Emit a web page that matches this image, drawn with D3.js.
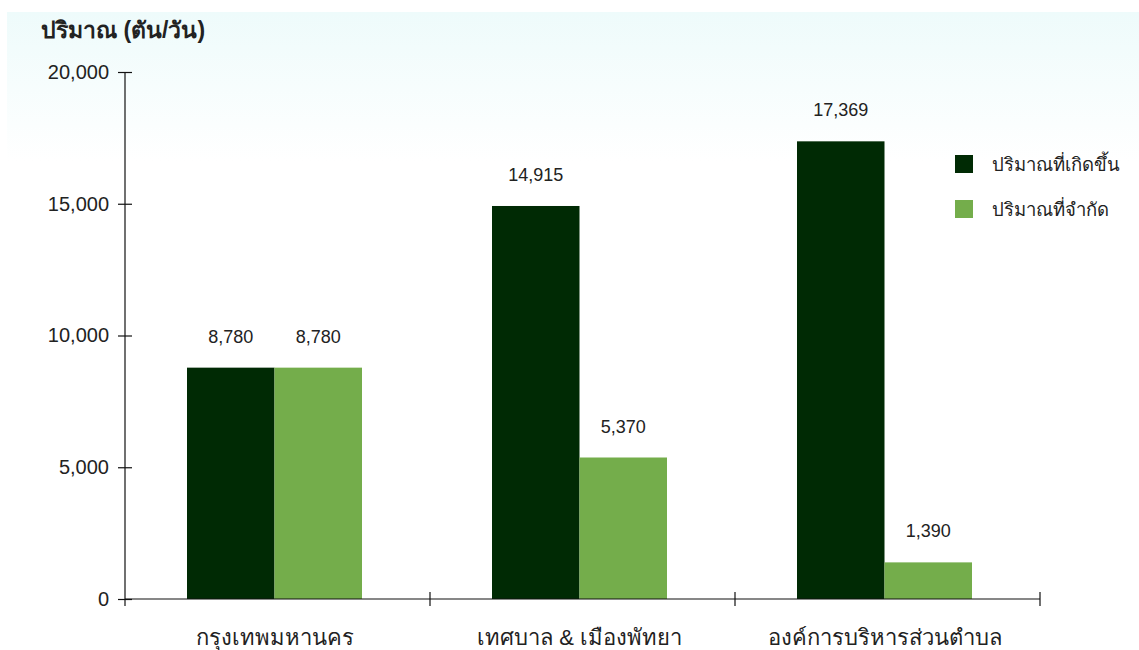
<!DOCTYPE html>
<html><head><meta charset="utf-8">
<script src="https://cdn.jsdelivr.net/npm/d3@7"></script>
<style>
body{margin:0;background:#fff;}
svg{display:block;font-family:"Liberation Sans",Arial,sans-serif;}
</style></head>
<body><svg id="chart" width="1139" height="650"></svg>
<script>
const categories = ["กรุงเทพมหานคร", "เทศบาล & เมืองพัทยา", "องค์การบริหารส่วนตำบล"];
const seriesNames = ["ปริมาณที่เกิดขึ้น", "ปริมาณที่จำกัด"];
const generated = [8780, 14915, 17369];
const disposed = [8780, 5370, 1390];
const yTicks = [0, 5000, 10000, 15000, 20000];
const colors = ["#002a04", "#74ad4b"];

const svg = d3.select("#chart");
const defs = svg.append("defs");
const grad = defs.append("linearGradient").attr("id","bg").attr("x1",0).attr("y1",0).attr("x2",0).attr("y2",1);
grad.append("stop").attr("offset","0%").attr("stop-color","#eefbfb");
grad.append("stop").attr("offset","100%").attr("stop-color","#ffffff");
svg.append("rect").attr("x",7).attr("y",12).attr("width",1132).attr("height",150).attr("fill","url(#bg)");

const mLeft = 125, mRight = 1040, mTop = 72, mBottom = 599;
const y = d3.scaleLinear().domain([0, 20000]).range([mBottom, mTop]);
const x0 = d3.scaleBand().domain(categories).range([mLeft, mRight]).padding(0);
const pairW = 175;
const x1 = d3.scaleBand().domain(seriesNames).range([0, pairW]).padding(0);

const data = categories.map((c, i) => ({cat: c, vals: [generated[i], disposed[i]]}));

const groups = svg.append("g").selectAll("g").data(data).join("g")
  .attr("transform", d => `translate(${x0(d.cat) + (x0.bandwidth() - pairW) / 2 - 3},0)`);

groups.selectAll("rect").data(d => d.vals.map((v, j) => ({v, s: seriesNames[j], j})))
  .join("rect")
  .attr("x", d => x1(d.s))
  .attr("width", x1.bandwidth())
  .attr("y", d => y(d.v))
  .attr("height", d => mBottom - y(d.v))
  .attr("fill", d => colors[d.j]);

groups.selectAll("text").data(d => d.vals.map((v, j) => ({v, s: seriesNames[j], j})))
  .join("text")
  .attr("x", d => x1(d.s) + x1.bandwidth() / 2)
  .attr("y", d => y(d.v) - 25)
  .attr("text-anchor", "middle")
  .attr("font-size", 18)
  .attr("fill", "#222")
  .text(d => d3.format(",")(d.v));

// y axis
const yAxis = svg.append("g").attr("transform", `translate(${mLeft},0)`)
  .call(d3.axisLeft(y).tickValues(yTicks).tickFormat(d3.format(",")).tickSize(7).tickPadding(9));
yAxis.select(".domain").attr("d", `M0,${mTop}V${mBottom + 7}`);
yAxis.selectAll(".tick line").attr("x1", 7).attr("x2", -7);
yAxis.selectAll("text").attr("font-size", 20).attr("fill", "#222").attr("font-family", "Liberation Sans, Arial, sans-serif");
yAxis.selectAll("path, line").attr("stroke", "#111").attr("stroke-width", 1.2);

// x axis
const tickPos = [mLeft, ...categories.map(c => x0(c) + x0.bandwidth())];
const xg = svg.append("g");
xg.append("line").attr("x1", mLeft).attr("x2", mRight).attr("y1", mBottom).attr("y2", mBottom).attr("stroke", "#111").attr("stroke-width", 1.2);
xg.selectAll("line.t").data(tickPos.slice(1)).join("line").attr("class","t")
  .attr("x1", d => d).attr("x2", d => d).attr("y1", mBottom - 7).attr("y2", mBottom + 7)
  .attr("stroke", "#111").attr("stroke-width", 1.2);
xg.selectAll("text").data(categories).join("text")
  .attr("x", c => x0(c) + x0.bandwidth() / 2 - 3)
  .attr("y", 645)
  .attr("text-anchor", "middle")
  .attr("font-size", 22)
  .attr("fill", "#222")
  .text(c => c);

// title
svg.append("text").attr("x", 41).attr("y", 38).attr("font-size", 23).attr("font-weight", "bold").attr("fill", "#222").text("ปริมาณ (ตัน/วัน)");

// legend
const lg = svg.append("g").attr("transform", "translate(955,155)");
seriesNames.forEach((s, i) => {
  lg.append("rect").attr("x", 0).attr("y", i * 45).attr("width", 18).attr("height", 18).attr("fill", colors[i]);
  lg.append("text").attr("x", 37).attr("y", i * 45 + 16).attr("font-size", 18.5).attr("fill", "#222").text(s);
});
</script></body></html>
